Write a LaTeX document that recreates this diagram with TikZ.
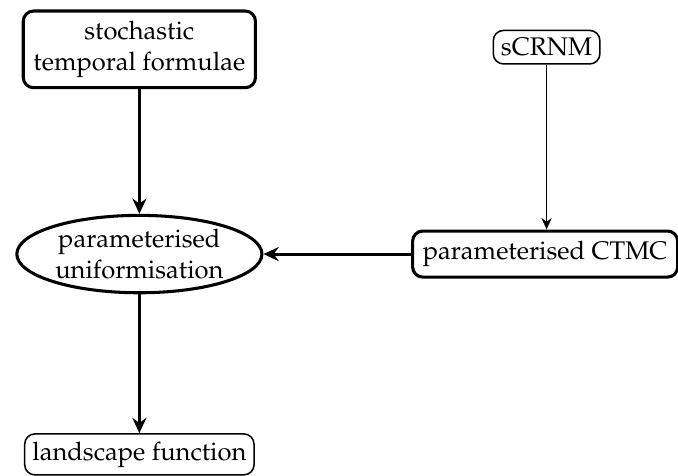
\documentclass[tikz,border=0pt]{standalone}
\usepackage[T1]{fontenc}
\usepackage{mathpazo}
\usepackage{tikz}
\usetikzlibrary{shapes,arrows,positioning,calc,arrows.meta}

\tikzset{
    boxthick/.style={draw, very thick, rounded corners=4pt, align=center, inner sep=4pt},
    boxthin/.style={draw, semithick, rounded corners=4pt, align=center, inner sep=3pt},
    oval/.style={draw, very thick, ellipse, align=center, inner sep=1pt},
    flow/.style={-{Stealth[length=6pt, width=5.5pt, inset=2pt]}, very thick},
    thinflow/.style={-{Stealth[length=4.5pt, width=4pt, inset=1.5pt]}, semithick},
}

\begin{document}
\begin{tikzpicture}
    \useasboundingbox (0,0) rectangle (9.34,-6.55);
    % Nodes
    \node[boxthick] (stf) at (1.92,-0.68) {stochastic\\temporal formulae};
    \node[boxthin] (scrnm) at (7.53,-0.65) {sCRNM};
    \node[oval] (unif) at (1.92,-3.50) {parameterised\\uniformisation};
    \node[boxthick] (ctmc) at (7.51,-3.50) {parameterised CTMC};
    \node[boxthin] (land) at (1.92,-6.26) {landscape function};

    % Edges
    \draw[flow] (stf) -- (unif);
    \draw[thinflow] (scrnm) -- (scrnm |- ctmc.north);
    \draw[flow] (ctmc) -- (unif);
    \draw[flow] (unif) -- (land);
\end{tikzpicture}
\end{document}
